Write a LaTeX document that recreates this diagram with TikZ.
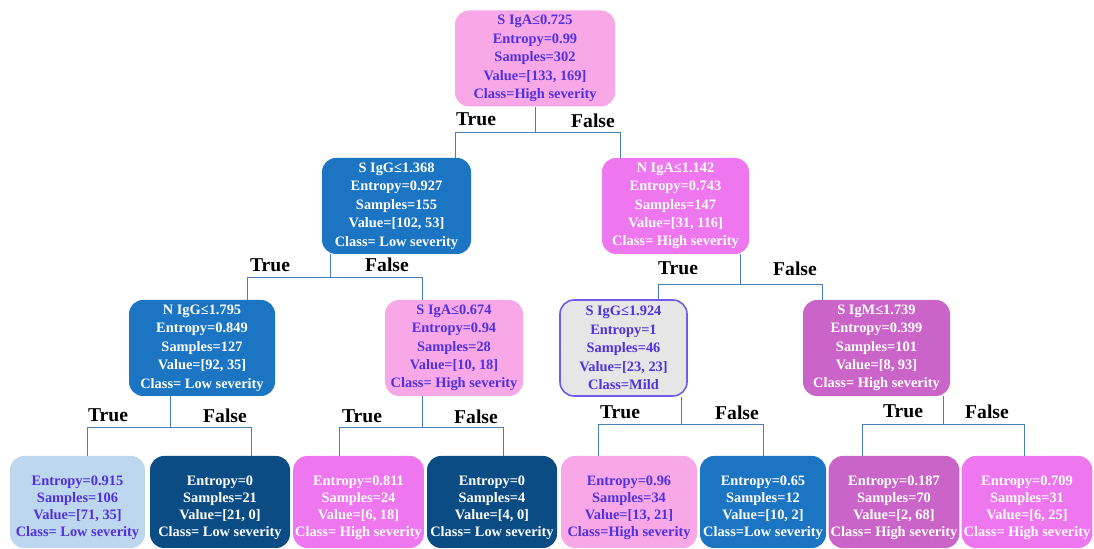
\documentclass[tikz,border=0pt]{standalone}
\usepackage{fontspec}
\setmainfont{Liberation Serif}
\usepackage{xcolor}
\definecolor{TreePink}{HTML}{F8A8E6}
\definecolor{TreeViolet}{HTML}{EE76EE}
\definecolor{TreePurple}{HTML}{CB64C9}
\definecolor{TreeBlue}{HTML}{1B75C2}
\definecolor{TreeNavy}{HTML}{0B4C85}
\definecolor{TreeSky}{HTML}{BDD7EE}
\definecolor{TreeGrey}{HTML}{E6E6E6}
\definecolor{TreeInk}{HTML}{5030E0}
\definecolor{TreeEdge}{HTML}{4A7EBB}
\usetikzlibrary{calc, positioning}

% leaf text sits a little below the middle of its box
\newcommand{\leaflines}[1]{\raisebox{-4.5pt}[16pt][16pt]{\begin{tabular}{@{}c@{}}#1\end{tabular}}}

\begin{document}
\begin{tikzpicture}[x=0.5pt, y=-0.5pt,
    tbox/.style={rounded corners=7pt, align=center, inner sep=1pt,
        font=\fontsize{7.2}{9.2}\selectfont\bfseries},
    inner/.style={tbox, minimum height=48pt},
    leaf/.style={tbox, minimum height=46pt,
        font=\fontsize{7.2}{8.6}\selectfont\bfseries},
    edge/.style={TreeEdge, line width=0.5pt},
    lbl/.style={font=\fontsize{9.8}{11}\selectfont\bfseries, inner sep=0pt}]

    \useasboundingbox (0,0) rectangle (1094,549);

    % 1. ROOT SPLIT
    \node[inner, fill=TreePink, text=TreeInk, minimum width=80pt] (root) at (535,58.5)
        {S IgA≤0.725\\Entropy=0.99\\Samples=302\\Value=[133, 169]\\Class=High severity};

    % 2. FIRST LEVEL
    \node[inner, fill=TreeBlue, text=white, minimum width=74.5pt] (sigg) at (396.5,206)
        {S IgG≤1.368\\Entropy=0.927\\Samples=155\\Value=[102, 53]\\Class= Low severity};
    \node[inner, fill=TreeViolet, text=white, minimum width=73.5pt] (niga) at (675.5,206)
        {N IgA≤1.142\\Entropy=0.743\\Samples=147\\Value=[31, 116]\\Class= High severity};

    % 3. SECOND LEVEL
    \node[inner, fill=TreeBlue, text=white, minimum width=73pt] (nigg) at (202,348)
        {N IgG≤1.795\\Entropy=0.849\\Samples=127\\Value=[92, 35]\\Class= Low severity};
    \node[inner, fill=TreePink, text=TreeInk, minimum width=69pt] (sigab) at (454,348)
        {S IgA≤0.674\\Entropy=0.94\\Samples=28\\Value=[10, 18]\\Class= High severity};
    \node[inner, fill=TreeGrey, draw=TreeInk!80, line width=0.8pt, text=TreeInk, minimum width=63.5pt] (siggb) at (623.5,348)
        {S IgG≤1.924\\Entropy=1\\Samples=46\\Value=[23, 23]\\Class=Mild};
    \node[inner, fill=TreePurple, text=white, minimum width=73.5pt] (sigm) at (876.5,348)
        {S IgM≤1.739\\Entropy=0.399\\Samples=101\\Value=[8, 93]\\Class= High severity};

    % 4. LEAVES
    \node[leaf, fill=TreeSky, text=TreeInk, minimum width=67.5pt] (leafa) at (77.5,502)
        {\leaflines{Entropy=0.915\\Samples=106\\Value=[71, 35]\\Class= Low severity}};
    \node[leaf, fill=TreeNavy, text=white, minimum width=70pt] (leafb) at (220,502)
        {\leaflines{Entropy=0\\Samples=21\\Value=[21, 0]\\Class= Low severity}};
    \node[leaf, fill=TreeViolet, text=white, minimum width=62.5pt] (leafc) at (358.5,502)
        {\leaflines{Entropy=0.811\\Samples=24\\Value=[6, 18]\\Class= High severity}};
    \node[leaf, fill=TreeNavy, text=white, minimum width=65pt] (leafd) at (492,502)
        {\leaflines{Entropy=0\\Samples=4\\Value=[4, 0]\\Class= Low severity}};
    \node[leaf, fill=TreePink, text=TreeInk, minimum width=68pt] (leafe) at (629,502)
        {\leaflines{Entropy=0.96\\Samples=34\\Value=[13, 21]\\Class=High severity}};
    \node[leaf, fill=TreeBlue, text=white, minimum width=63pt] (leaff) at (763,502)
        {\leaflines{Entropy=0.65\\Samples=12\\Value=[10, 2]\\Class=Low severity}};
    \node[leaf, fill=TreePurple, text=white, minimum width=64pt] (leafg) at (894,502)
        {\leaflines{Entropy=0.187\\Samples=70\\Value=[2, 68]\\Class= High severity}};
    \node[leaf, fill=TreeViolet, text=white, minimum width=65pt] (leafh) at (1027,502)
        {\leaflines{Entropy=0.709\\Samples=31\\Value=[6, 25]\\Class= High severity}};

    % 5. CONNECTORS
    \draw[edge] (root.south) -- ++(0,26) coordinate (j0);
    \draw[edge] ($(sigg.north)+(58.5,0)$) |- (j0) -| ($(niga.north)+(-55.5,0)$);

    \draw[edge] ($(sigg.south)+(-66.5,0)$) -- ++(0,23) coordinate (j1);
    \draw[edge] ($(nigg.north)+(45,0)$) |- (j1) -| ($(sigab.north)+(-32,0)$);

    \draw[edge] ($(niga.south)+(64.5,0)$) -- ++(0,30) coordinate (j2);
    \draw[edge] ($(siggb.north)+(34.5,0)$) |- (j2) -| ($(sigm.north)+(-54.5,0)$);

    \draw[edge] ($(nigg.south)+(-32,0)$) -- ++(0,31) coordinate (j3);
    \draw[edge] ($(leafa.north)+(9.5,0)$) |- (j3) -| ($(leafb.north)+(31,0)$);

    \draw[edge] ($(sigab.south)+(-32,0)$) -- ++(0,31) coordinate (j4);
    \draw[edge] ($(leafc.north)+(-19.5,0)$) |- (j4) -| ($(leafd.north)+(11,0)$);

    \draw[edge] ($(siggb.south)+(57.5,0)$) -- ++(0,28) coordinate (j5);
    \draw[edge] ($(leafe.north)+(-31,0)$) |- (j5) -| (leaff.north);

    \draw[edge] ($(sigm.south)+(66.5,0)$) -- ++(0,28) coordinate (j6);
    \draw[edge] ($(leafg.north)+(-32,0)$) |- (j6) -| ($(leafh.north)+(-3,0)$);

    % 6. BRANCH LABELS
    \node[lbl] (t0) at (476,119) {True};
    \node[lbl] (f0) at (593,121) {False};
    \node[lbl] (t1) at (270,265) {True};
    \node[lbl] (f1) at (387,265) {False};
    \node[lbl] (t2) at (678,268) {True};
    \node[lbl] (f2) at (795,269) {False};
    \node[lbl] (t3) at (108,415) {True};
    \node[lbl] (f3) at (225,416) {False};
    \node[lbl] (t4) at (362,416) {True};
    \node[lbl] (f4) at (476,417) {False};
    \node[lbl] (t5) at (620,412) {True};
    \node[lbl] (f5) at (737,413) {False};
    \node[lbl] (t6) at (903,411) {True};
    \node[lbl] (f6) at (987,412) {False};

\end{tikzpicture}
\end{document}
